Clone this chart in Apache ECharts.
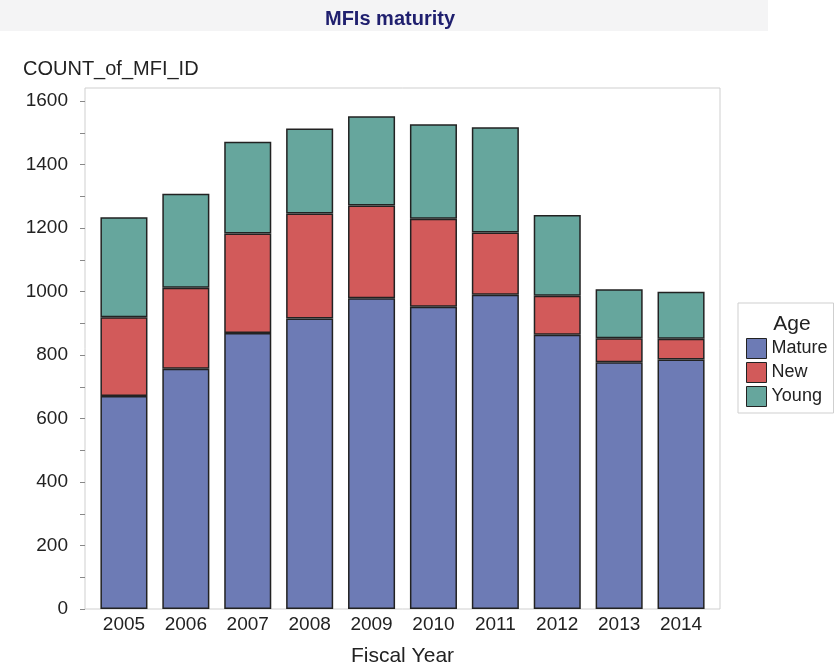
<!DOCTYPE html>
<html>
<head>
<meta charset="utf-8">
<script src="https://cdn.jsdelivr.net/npm/echarts@6/dist/echarts.min.js"></script>
<style>
  html, body { margin: 0; padding: 0; background: #fff; }
  #main { width: 837px; height: 666px; }
</style>
</head>
<body>
<div id="main"></div>
<script>
const years = ['2005', '2006', '2007', '2008', '2009', '2010', '2011', '2012', '2013', '2014'];
const mature = [671, 757, 869, 915, 979, 952, 990, 864, 777, 786];
const newer = [248, 255, 314, 331, 292, 277, 196, 123, 76, 65];
const young = [315, 296, 289, 267, 281, 298, 331, 254, 154, 148];
const seriesNames = ['Mature', 'New', 'Young'];
const colors = ['#6d7bb5', '#d25a5a', '#66a69d'];

const chart = echarts.init(document.getElementById('main'));
const font = 'Liberation Sans, Arial, sans-serif';

function makeSeries(name, data, i) {
    return {
        name: name,
        type: 'bar',
        stack: 'total',
        xAxisIndex: 1,
        yAxisIndex: 1,
        barWidth: '76%',
        data: data,
        itemStyle: {
            color: colors[i],
            borderColor: '#222',
            borderWidth: 1.5
        }
    };
}

const option = {
    animation: false,
    textStyle: { fontFamily: font },
    graphic: [{
        type: 'rect',
        left: 0,
        top: 0,
        shape: { width: 768, height: 31 },
        style: { fill: '#f4f4f5' },
        z: 0
    }],
    title: [{
        text: 'MFIs maturity',
        left: 385,
        top: 4,
        textAlign: 'center',
        textStyle: { fontSize: 20, fontWeight: 'bold', color: '#1f1f6e', fontFamily: font }
    }, {
        text: 'COUNT_of_MFI_ID',
        left: 18,
        top: 54,
        textStyle: { fontSize: 20, fontWeight: 'normal', color: '#222', fontFamily: font }
    }, {
        text: 'Age',
        left: 787,
        top: 309,
        textAlign: 'center',
        z: 10,
        textStyle: { fontSize: 21, fontWeight: 'normal', color: '#222', fontFamily: font }
    }],
    legend: {
        data: seriesNames,
        orient: 'vertical',
        left: 738,
        top: 303,
        padding: [35, 6, 6, 8],
        itemWidth: 20,
        itemHeight: 20,
        itemGap: 3,
        icon: 'rect',
        backgroundColor: '#fff',
        borderColor: '#cfcfcf',
        borderWidth: 1,
        itemStyle: { borderColor: '#222', borderWidth: 1 },
        textStyle: { fontSize: 18, color: '#222', fontFamily: font }
    },
    grid: [{
        left: 85, right: 117, top: 88, bottom: 57,
        outerBoundsMode: 'none',
        show: true, borderColor: '#cfcfcf', borderWidth: 1
    }, {
        left: 93, right: 125, top: 101, bottom: 57,
        outerBoundsMode: 'none'
    }],
    xAxis: [{
        gridIndex: 0, type: 'category', data: years, show: false
    }, {
        gridIndex: 1,
        type: 'category',
        data: years,
        name: 'Fiscal Year',
        nameLocation: 'middle',
        nameGap: 37,
        nameTextStyle: { fontSize: 21, color: '#222', fontFamily: font },
        axisLine: { show: false },
        axisTick: { show: false },
        axisLabel: { fontSize: 19, color: '#222', margin: 6, fontFamily: font }
    }],
    yAxis: [{
        gridIndex: 0, type: 'value', show: false, min: 0, max: 1600
    }, {
        gridIndex: 1,
        type: 'value',
        min: 0,
        max: 1600,
        interval: 200,
        offset: 8,
        axisLine: { show: false },
        axisTick: { show: true, length: 5, lineStyle: { color: '#888' } },
        minorTick: { show: true, splitNumber: 2, length: 5, lineStyle: { color: '#888' } },
        splitLine: { show: false },
        axisLabel: {
            fontSize: 19, color: '#222', margin: 17, fontFamily: font,
            formatter: function(v) { return String(v); }
        }
    }],
    series: [
        makeSeries('Mature', mature, 0),
        makeSeries('New', newer, 1),
        makeSeries('Young', young, 2)
    ]
};

chart.setOption(option);
</script>
</body>
</html>
